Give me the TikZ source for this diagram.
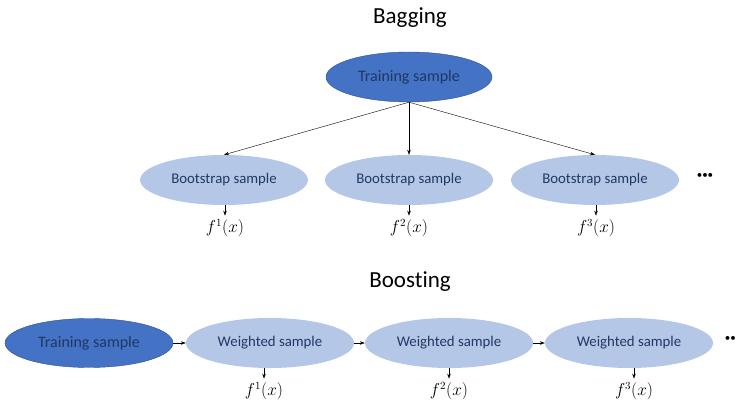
\documentclass[tikz,border=0pt]{standalone}
\usepackage{fontspec}
\setmainfont{Carlito}[Ligatures=NoCommon]
\usepackage{amsmath}
\usetikzlibrary{shapes.geometric,arrows.meta,positioning}
\definecolor{darkBlue}{RGB}{68,114,196}
\definecolor{edgeBlue}{RGB}{47,82,143}
\definecolor{lightBlue}{RGB}{180,199,231}
\definecolor{textNavy}{RGB}{31,56,100}
\begin{document}
\begin{tikzpicture}[x=1pt,y=-1pt,
    trainbox/.style={ellipse, draw=edgeBlue, fill=darkBlue, minimum width=166pt,
      minimum height=50pt, inner sep=0pt, text=textNavy, font=\fontsize{16}{19}\selectfont},
    samplebox/.style={ellipse, fill=lightBlue, minimum width=168pt,
      minimum height=50pt, inner sep=0pt, text=textNavy, font=\fontsize{14.8}{17}\selectfont},
    titletext/.style={font=\fontsize{23}{27}\selectfont},
    outtext/.style={font=\fontsize{16}{18}\selectfont},
    dotstext/.style={font=\fontsize{11}{13}\selectfont, inner sep=0pt},
    link/.style={->,>={Stealth[length=5pt,width=3.5pt]},line width=0.4pt}]
  \useasboundingbox (0,0) rectangle (736,403);
  % Bagging
  \node[titletext] (bagtitle) at (410,18) {Bagging};
  \node[trainbox] (train) at (409,77) {Training sample};
  \node[samplebox] (boot1) at (224,180) {Bootstrap sample};
  \node[samplebox] (boot2) at (409,180) {Bootstrap sample};
  \node[samplebox] (boot3) at (595,180) {Bootstrap sample};
  \node[dotstext] (bagdots) at (705,176) {\textbullet\textbullet\textbullet};
  \node[outtext] (fb1) at (225,228) {$f^1(x)$};
  \node[outtext] (fb2) at (409,228) {$f^2(x)$};
  \node[outtext] (fb3) at (596,228) {$f^3(x)$};
  \foreach \i in {1,2,3} {
    \draw[link] (train.south) -- (boot\i.north);
    \draw[link] (fb\i.north |- boot\i.south) -- (fb\i.north);
  }
  % Boosting
  \node[titletext] (boosttitle) at (410,282) {Boosting};
  \node[trainbox, minimum width=168pt, minimum height=49pt] (wtrain) at (89,343) {Training sample};
  \node[samplebox] (wt1) at (270,343) {Weighted sample};
  \node[samplebox] (wt2) at (449,343) {Weighted sample};
  \node[samplebox] (wt3) at (629,343) {Weighted sample};
  \node[dotstext, anchor=east] (boostdots) at (736,339) {\textbullet\textbullet};
  \node[outtext] (fw1) at (264,391) {$f^1(x)$};
  \node[outtext] (fw2) at (449,391) {$f^2(x)$};
  \node[outtext] (fw3) at (634,391) {$f^3(x)$};
  \draw[link] (wtrain) -- (wt1);
  \draw[link] (wt1) -- (wt2);
  \draw[link] (wt2) -- (wt3);
  \foreach \i in {1,2,3}
    \draw[link] (fw\i.north |- wt\i.south) -- (fw\i.north);
\end{tikzpicture}
\end{document}
